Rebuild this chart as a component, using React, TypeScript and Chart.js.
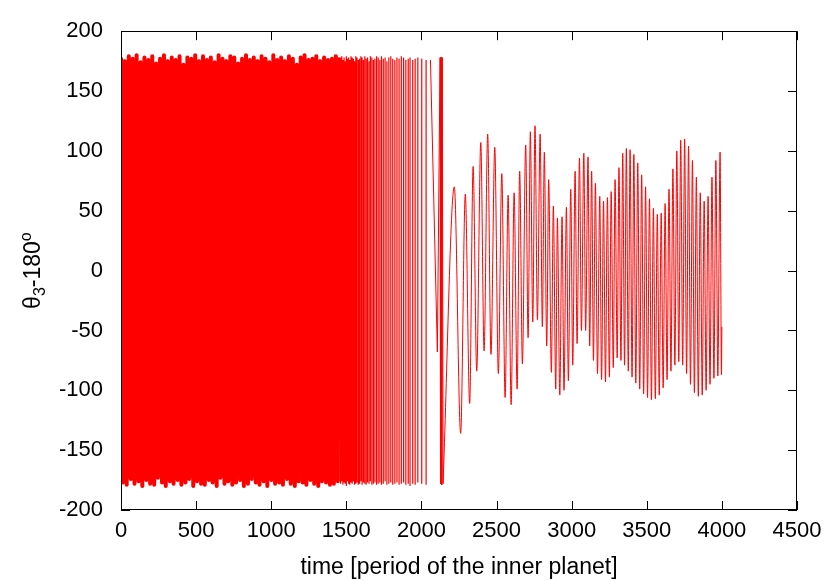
import React, { useEffect, useRef } from 'react';
import { Chart, registerables } from 'chart.js';

Chart.register(...registerables);

const FONT = '"Liberation Sans", Arial, Helvetica, sans-serif';
const FONT_SIZE = 22;
const TITLE_SIZE = 23;
const RED = 'rgb(255,0,0)';

// axis ticks
const xTickValues = [0, 500, 1000, 1500, 2000, 2500, 3000, 3500, 4000, 4500];
const yTickValues = [-200, -150, -100, -50, 0, 50, 100, 150, 200];
const xTitle = 'time [period of the inner planet]';
// y title: θ, subscript 3, "-180", superscript o
const yTitleParts = [
  { text: 'θ', kind: 'normal' },
  { text: '3', kind: 'sub' },
  { text: '-180', kind: 'normal' },
  { text: 'o', kind: 'sup' },
];

// circulation phase (dense, 0 .. 1456): alternating wrap extremes
const circTimesA = [
  0, 13, 26, 38, 52, 65, 78, 90, 104, 117,
  130, 142, 156, 169, 182, 194, 208, 221, 234, 246,
  260, 273, 286, 298, 312, 325, 338, 350, 364, 377,
  390, 402, 416, 429, 442, 454, 468, 481, 494, 506,
  520, 533, 546, 558, 572, 585, 598, 610, 624, 637,
  650, 662, 676, 689, 702, 714, 728, 741, 754, 766,
  780, 793, 806, 818, 832, 845, 858, 870, 884, 897,
  910, 922, 936, 949, 962, 974, 988, 1001, 1014, 1026,
  1040, 1053, 1066, 1078, 1092, 1105, 1118, 1130, 1144, 1157,
  1170, 1182, 1196, 1209, 1222, 1234, 1248, 1261, 1274, 1286,
  1300, 1313, 1326, 1338, 1352, 1365, 1378, 1391, 1404, 1417,
  1430, 1443, 1456,
];
const circValuesA = [
  178, -177, 175, -179, 179, -174, 177, -178, 180, -176, 174, -180, 178, -175, 176, -178, 179, -179, 173, -173,
  177, -177, 180, -180, 175, -176, 178, -178, 176, -175, 179, -179, 172, -177, 178, -174, 177, -180, 180, -176,
  175, -178, 179, -179, 176, -175, 178, -177, 174, -180, 180, -173, 177, -178, 175, -176, 179, -179, 178, -177,
  173, -175, 177, -180, 180, -178, 176, -174, 178, -177, 175, -179, 179, -176, 177, -180, 174, -175, 180, -178,
  176, -177, 178, -179, 175, -174, 179, -178, 177, -180, 172, -176, 178, -177, 180, -179, 176, -175, 177, -178,
  179, -180, 175, -176, 178, -177, 176, -179, 177, -178, 179, -176, 178,
];

// circulation phase, thinning out: wrap jumps (time, top, bottom)
const wrapTimes = [
  1450, 1462, 1470, 1477, 1485, 1492, 1500, 1508, 1515, 1523, 1531,
  1539, 1547, 1555, 1563, 1571, 1580, 1588, 1597, 1605, 1614,
  1623, 1632, 1641, 1651, 1660, 1670, 1680, 1690, 1701, 1712,
  1723, 1734, 1746, 1758, 1770, 1783, 1796, 1809, 1823, 1837,
  1851, 1866, 1881, 1896, 1912, 1924, 1942, 1958, 1976, 2002,
  2031,
];
const wrapTops = [
  178, 177, 179, 176, 178, 175, 179, 177, 178, 176, 179,
  178, 177, 175, 179, 178, 176, 177, 179, 178, 176,
  179, 177, 178, 175, 179, 178, 176, 177, 179, 178,
  176, 179, 177, 178, 175, 178, 179, 177, 176, 178,
  177, 179, 178, 176, 177, 178, 176, 177, 178, 177,
  176,
];
const wrapBottoms = [
  -177, -178, -176, -179, -177, -178, -180, -176, -178, -179, -177,
  -178, -176, -179, -178, -177, -179, -178, -176, -179, -177,
  -178, -179, -177, -178, -176, -179, -178, -177, -179, -178,
  -177, -179, -178, -176, -179, -178, -177, -179, -178, -177,
  -179, -178, -177, -179, -178, -180, -178, -179, -177, -178,
  -179,
];

// capture into resonance
const transTimes = [2060, 2106, 2124, 2127, 2131, 2135, 2139, 2144];
const transValues = [176, -68, 178, -178, 178, -179, 178, -178];

// libration: successive maxima / minima
const libTimes = [
  2219, 2261, 2292, 2321, 2344, 2368, 2395, 2417, 2441, 2463,
  2488, 2512, 2535, 2557, 2577, 2597, 2617, 2637, 2654, 2672,
  2694, 2710, 2725, 2741, 2756, 2772, 2790, 2805, 2818, 2834,
  2847, 2865, 2878, 2894, 2905, 2921, 2936, 2949, 2965, 2978,
  2994, 3007, 3023, 3036, 3052, 3065, 3081, 3093, 3109, 3120,
  3133, 3145, 3158, 3172, 3187, 3199, 3212, 3225, 3238, 3251,
  3263, 3277, 3289, 3303, 3315, 3328, 3340, 3352, 3364, 3377,
  3389, 3402, 3414, 3427, 3440, 3453, 3466, 3479, 3492, 3505,
  3518, 3531, 3544, 3557, 3570, 3583, 3596, 3609, 3622, 3635,
  3648, 3661, 3674, 3687, 3700, 3713, 3726, 3739, 3752, 3765,
  3778, 3791, 3804, 3817, 3830, 3843, 3856, 3869, 3882, 3895,
  3908, 3921, 3934, 3947, 3960, 3973, 3988, 3997, 4000,
];
const libValues = [
  70, -136, 64, -111, 87, -84, 107, -67, 114, -70,
  103, -86, 81, -106, 63, -112, 65, -99, 83, -78,
  105, -56, 116, -43, 121, -41, 114, -47, 99, -63,
  76, -85, 54, -99, 44, -104, 45, -100, 53, -92,
  68, -79, 83, -61, 94, -50, 98, -50, 95, -63,
  83, -75, 73, -86, 62, -91, 58, -93, 61, -89,
  66, -81, 76, -73, 86, -75, 98, -79, 102, -84,
  101, -89, 97, -94, 90, -99, 80, -103, 70, -106,
  60, -108, 52, -107, 47, -104, 48, -98, 56, -91,
  68, -84, 85, -79, 100, -76, 109, -79, 110, -86,
  104, -95, 92, -102, 78, -105, 65, -104, 58, -100,
  62, -95, 78, -90, 92, -88, 99, -87, -47,
];

const TICK_LEN = 9;
const Y_TITLE_X = 32;

function zip(ts: number[], vs: number[]) {
  return ts.map((t, i) => ({ x: t, y: vs[i] }));
}

const framePlugin = {
  id: 'gnuframe',
  beforeDatasetsDraw(chart: any) {
    const { ctx, chartArea: a, scales } = chart;
    ctx.save();
    ctx.strokeStyle = '#000';
    ctx.lineWidth = 1;
    ctx.beginPath();
    for (const v of xTickValues) {
      const px = Math.round(scales.x.getPixelForValue(v)) + 0.5;
      ctx.moveTo(px, a.bottom);
      ctx.lineTo(px, a.bottom - TICK_LEN);
      ctx.moveTo(px, a.top);
      ctx.lineTo(px, a.top + TICK_LEN);
    }
    for (const v of yTickValues) {
      const py = Math.round(scales.y.getPixelForValue(v)) + 0.5;
      ctx.moveTo(a.left, py);
      ctx.lineTo(a.left + TICK_LEN, py);
      ctx.moveTo(a.right, py);
      ctx.lineTo(a.right - TICK_LEN, py);
    }
    ctx.stroke();
    ctx.restore();
  },
  afterDatasetsDraw(chart: any) {
    const { ctx, chartArea: a } = chart;
    ctx.save();
    ctx.strokeStyle = '#000';
    ctx.lineWidth = 1;
    const l = Math.round(a.left) + 0.5;
    const r = Math.round(a.right) - 0.5;
    const t = Math.round(a.top) + 0.5;
    const b = Math.round(a.bottom) - 0.5;
    ctx.strokeRect(l, t, r - l, b - t);
    ctx.restore();
  },
  afterDraw(chart: any) {
    const { ctx, chartArea: a } = chart;
    ctx.save();
    ctx.translate(Y_TITLE_X, (a.top + a.bottom) / 2);
    ctx.rotate(-Math.PI / 2);
    ctx.fillStyle = '#000';
    ctx.textBaseline = 'alphabetic';
    ctx.textAlign = 'left';
    const sizeOf = (k: string) => (k === 'normal' ? TITLE_SIZE : Math.round(TITLE_SIZE * 0.7));
    const dyOf = (k: string) => (k === 'sub' ? 5 : k === 'sup' ? -9 : 0);
    const widths = yTitleParts.map((p) => {
      ctx.font = `${sizeOf(p.kind)}px ${FONT}`;
      return ctx.measureText(p.text).width;
    });
    const total = widths.reduce((s, w) => s + w, 0);
    let x = -total / 2;
    yTitleParts.forEach((p, i) => {
      ctx.font = `${sizeOf(p.kind)}px ${FONT}`;
      ctx.fillText(p.text, x, 8 + dyOf(p.kind));
      x += widths[i];
    });
    ctx.restore();
  },
};

export default function App() {
  const ref = useRef<HTMLCanvasElement>(null);
  useEffect(() => {
    if (!ref.current) return;
    const denseData = zip(circTimesA, circValuesA);
    // each wrap drawn as its own vertical stroke (gap between strokes)
    const wrapData: any[] = [];
    wrapTimes.forEach((t, i) => {
      wrapData.push({ x: t, y: wrapBottoms[i] }, { x: t, y: wrapTops[i] }, { x: t, y: null });
    });
    const transData = zip(transTimes, transValues);
    const libData = [transData[transData.length - 1], ...zip(libTimes, libValues)];
    const font = { family: FONT, size: FONT_SIZE };
    const line = (data: any[], width: number, extra: any = {}) => ({
      data,
      borderColor: RED,
      borderWidth: width,
      pointRadius: 0,
      tension: 0,
      clip: 0,
      ...extra,
    });
    const chart = new Chart(ref.current, {
      type: 'line',
      data: {
        datasets: [
          line(denseData, 4, { borderJoinStyle: 'round' }),
          line(wrapData, 1.2, { spanGaps: false }),
          line(transData, 1),
          line(libData, 1, { cubicInterpolationMode: 'monotone' }),
        ] as any,
      },
      options: {
        responsive: false,
        animation: false,
        events: [],
        layout: { padding: { left: 0, right: 33, top: 29, bottom: 0 } },
        plugins: { legend: { display: false }, tooltip: { enabled: false } },
        scales: {
          x: {
            type: 'linear',
            position: 'bottom',
            min: 0,
            max: 4500,
            afterBuildTicks: (s: any) => {
              s.ticks = xTickValues.map((v) => ({ value: v }));
            },
            ticks: {
              callback: (v: any) => String(v),
              font,
              color: '#000',
              padding: 8,
              maxRotation: 0,
              autoSkip: false,
            },
            grid: { display: false, drawTicks: false },
            border: { display: false },
            title: {
              display: true,
              text: xTitle,
              font: { family: FONT, size: TITLE_SIZE },
              color: '#000',
              padding: { top: 0, bottom: 0 },
            },
            afterFit: (s: any) => {
              s.height = 71;
            },
          },
          y: {
            type: 'linear',
            min: -200,
            max: 200,
            afterBuildTicks: (s: any) => {
              s.ticks = yTickValues.map((v) => ({ value: v }));
            },
            ticks: {
              callback: (v: any) => String(v),
              font,
              color: '#000',
              padding: 18,
              autoSkip: false,
            },
            grid: { display: false, drawTicks: false },
            border: { display: false },
            afterFit: (s: any) => {
              s.width = 121;
            },
          },
        },
      } as any,
      plugins: [framePlugin],
    });
    return () => chart.destroy();
  }, []);
  return (
    <div style={{ position: 'absolute', left: 0, top: 0, width: 830, height: 581, background: '#fff' }}>
      <canvas ref={ref} width={830} height={581} style={{ display: 'block' }} />
    </div>
  );
}
